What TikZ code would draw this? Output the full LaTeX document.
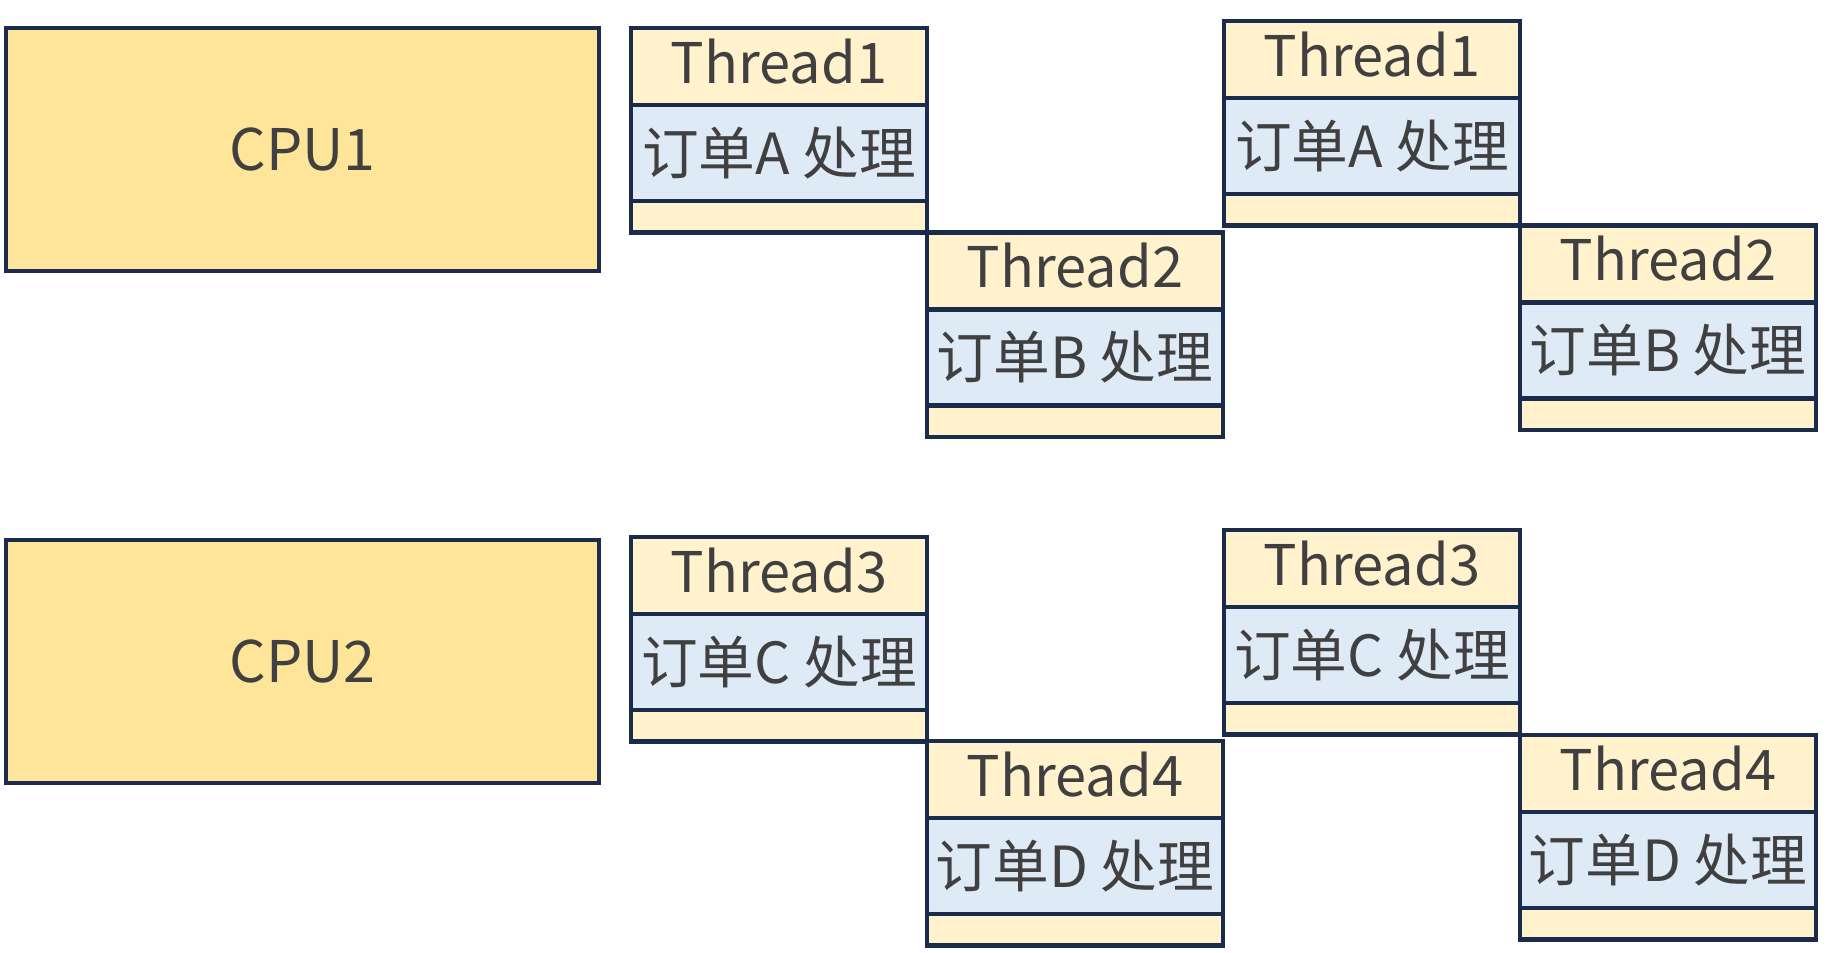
\documentclass[tikz,border=0pt]{standalone}
\usepackage{fontspec}
\setmainfont{Noto Sans CJK SC}
\definecolor{cpufill}{HTML}{FFE599}
\definecolor{headfill}{HTML}{FFF2CC}
\definecolor{midfill}{HTML}{DEEBF7}
\definecolor{edgecol}{HTML}{1A2B4C}
\definecolor{txtcol}{HTML}{404040}
\newcommand{\thrblock}[5]{%
  \node[hdrbox] (#1h) at (#2,#3) {#4};
  \node[midbox] (#1m) at (#2,#3+77) {#5};
  \node[botbox] (#1b) at (#2,#3+173) {};
}
\begin{document}
\begin{tikzpicture}[x=0.75pt,y=-0.75pt,
  box/.style={draw=edgecol,line width=3.4pt,rectangle,inner sep=0pt,outer sep=0pt,anchor=north west,text=txtcol},
  cpubox/.style={box,fill=cpufill,minimum width=593*0.75pt,minimum height=243*0.75pt,font=\fontsize{43}{43}\selectfont},
  hdrbox/.style={box,fill=headfill,minimum width=296*0.75pt,minimum height=77*0.75pt,text depth=8pt,font=\fontsize{42}{42}\selectfont},
  midbox/.style={box,fill=midfill,minimum width=296*0.75pt,minimum height=96*0.75pt,font=\fontsize{42.5}{42.5}\selectfont},
  botbox/.style={box,fill=headfill,minimum width=296*0.75pt,minimum height=31.5*0.75pt}]
\fill[white] (0,0) rectangle (1842,953);
\useasboundingbox (0,0) rectangle (1842,953);
\node[cpubox] (cpu1) at (6,28) {CPU1};
\node[cpubox] (cpu2) at (6,540) {CPU2};
\thrblock{ta}{631}{28}{Thread1}{订单A 处理}
\thrblock{tb}{927}{232.5}{Thread2}{订单B 处理}
\thrblock{tc}{1224}{21}{Thread1}{订单A 处理}
\thrblock{td}{1520}{225.5}{Thread2}{订单B 处理}
\thrblock{te}{631}{537}{Thread3}{订单C 处理}
\thrblock{tf}{927}{741}{Thread4}{订单D 处理}
\thrblock{tg}{1224}{530}{Thread3}{订单C 处理}
\thrblock{th}{1520}{735}{Thread4}{订单D 处理}
\end{tikzpicture}
\end{document}
